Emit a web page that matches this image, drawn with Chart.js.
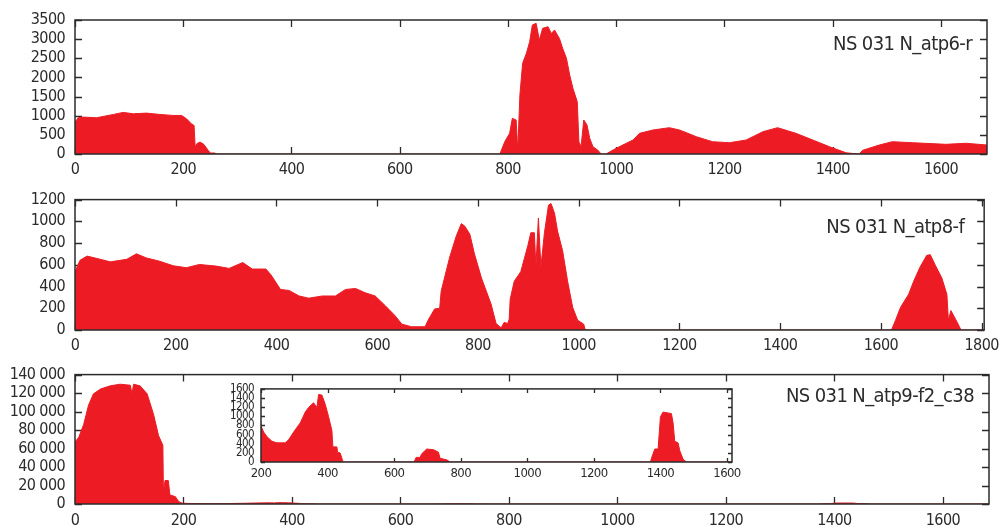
<!DOCTYPE html>
<html>
<head>
<meta charset="utf-8">
<script src="https://cdn.jsdelivr.net/npm/chart.js@4/dist/chart.umd.min.js"></script>
<style>
  body { margin: 0; background: #fff; }
  #wrap { position: relative; width: 1006px; height: 531px; overflow: hidden; }
  canvas { position: absolute; }
</style>
</head>
<body>
<div id="wrap">
  <canvas id="c1" width="1006" height="180" style="left:0;top:0"></canvas>
  <canvas id="c2" width="1006" height="180" style="left:0;top:180px"></canvas>
  <canvas id="c3" width="1006" height="176" style="left:0;top:355px"></canvas>
  <canvas id="c4" width="535" height="105" style="left:215px;top:375px"></canvas>
</div>
<script>
// NS 031 N_atp6-r
var pos1 = [0, 6, 15, 40, 52, 71, 89, 108, 132, 157, 181, 197, 206, 215, 220, 222, 225, 231, 238, 246, 250, 258, 262,
  785, 794, 803, 808, 815, 818, 822, 827, 834, 840, 845, 852, 858, 864, 874, 880, 886, 895, 901, 908, 914, 920, 928, 931, 935, 940, 946, 951, 957, 966, 972,
  981, 1000, 1031, 1043, 1068, 1098, 1117, 1148, 1178, 1209, 1240, 1271, 1298, 1332, 1363, 1394, 1425, 1449, 1455, 1486, 1510, 1548, 1609, 1646, 1685];
var val1 = [834, 947, 964, 947, 981, 1033, 1086, 1051, 1068, 1033, 1007, 1007, 921, 790, 747, 182, 269, 313, 252, 96, 26, 26, 0,
  0, 321, 540, 932, 888, 100, 1540, 2370, 2630, 2933, 3370, 3413, 2977, 3282, 3325, 3150, 3238, 3020, 2760, 2500, 2063, 1715, 1365, 321, 190, 888, 757, 410, 190, 100, 0,
  0, 150, 366, 540, 627, 687, 627, 452, 321, 295, 366, 583, 687, 540, 366, 190, 30, 0, 95, 235, 321, 295, 253, 280, 235];

// NS 031 N_atp8-f
var pos2 = [0, 10, 24, 50, 70, 103, 122, 142, 168, 195, 221, 247, 280, 306, 333, 352, 379, 389, 408, 425, 445, 464, 491, 517, 537, 557, 576, 596, 616, 635, 649, 668, 695,
  701, 714, 724, 727, 744, 757, 767, 774, 784, 793, 807, 826, 836, 846, 852, 859, 862,
  864, 872, 885, 899, 905, 912, 915, 920, 925, 932, 940, 945, 952, 958, 968, 978, 988, 998, 1010, 1013,
  1621, 1629, 1639, 1655, 1665, 1678, 1691, 1698, 1708, 1721, 1731, 1734, 1739, 1751, 1759, 1805];
var val2 = [537, 642, 680, 651, 627, 651, 701, 663, 633, 591, 573, 603, 588, 567, 621, 561, 561, 508, 373, 364, 313, 293, 313, 313, 373, 382, 343, 313, 224, 134, 54, 30, 30,
  90, 194, 200, 358, 672, 866, 979, 955, 880, 701, 478, 239, 60, 20, 70, 60, 100,
  284, 448, 537, 776, 895, 895, 582, 1030, 582, 895, 1149, 1164, 1075, 910, 731, 448, 209, 90, 54, 0,
  0, 90, 209, 328, 448, 582, 687, 693, 597, 478, 328, 90, 179, 75, 0, 0];

// NS 031 N_atp9-f2_c38 (the inset shows the same series from 200 on)
var pos3 = [0, 7, 16, 25, 34, 47, 65, 83, 102, 105, 108, 120, 133, 145, 154, 162, 163, 166, 172, 175, 185, 191, 197,
  200, 208, 218, 233, 248, 273, 283, 298, 318, 333, 343, 358, 368, 373, 383, 393, 403, 413, 416, 428, 430, 438, 446, 450,
  660, 666, 678, 683, 698, 718, 733, 738, 758, 768,
  1370, 1373, 1383, 1393, 1400, 1408, 1423, 1433, 1438, 1443, 1453, 1458, 1468, 1478, 1685];
var val3 = [67050, 72260, 86150, 107000, 119150, 124370, 127850, 129580, 128540, 119150, 129580, 127850, 119150, 96580, 74000, 63570, 13200, 25360, 25360, 9730, 8000, 2780, 1000,
  790, 655, 554, 452, 419, 419, 486, 655, 857, 1093, 1195, 1296, 1195, 1478, 1465, 1263, 992, 689, 331, 331, 216, 196, 13, 0,
  0, 101, 101, 182, 284, 270, 216, 81, 47, 0,
  0, 81, 284, 284, 992, 1093, 1073, 1060, 857, 452, 419, 250, 61, 0, 0];

// tick labels
var xTicks1 = [0, 200, 400, 600, 800, 1000, 1200, 1400, 1600];
var xTicks2 = [0, 200, 400, 600, 800, 1000, 1200, 1400, 1600, 1800];
var xTicks3 = [0, 200, 400, 600, 800, 1000, 1200, 1400, 1600];
var xTicksIn = [200, 400, 600, 800, 1000, 1200, 1400, 1600];
var yTicks1 = [0, 500, 1000, 1500, 2000, 2500, 3000, 3500];
var yTicks2 = [0, 200, 400, 600, 800, 1000, 1200];
var yTicks3 = [0, 20000, 40000, 60000, 80000, 100000, 120000, 140000];
var yTicksIn = [0, 200, 400, 600, 800, 1000, 1200, 1400, 1600];

var red = "rgb(237,28,36)";
var ink = "#2b2b2b";
var fontFam = "'Liberation Sans Narrow', 'DejaVu Sans Condensed', sans-serif";

function plain(v) { return String(v); }
function spaced(v) { return String(v).replace(/\B(?=(\d{3})+(?!\d))/g, " "); }

// frame, inward ticks on all four sides, and the panel name
var frame = {
  id: "frame",
  beforeDraw: function (chart) {
    chart.ctx.letterSpacing = "-0.6px";
  },
  beforeDatasetsDraw: function (chart, args, o) {
    var a = chart.chartArea, ctx = chart.ctx, x = chart.scales.x, y = chart.scales.y;
    ctx.save();
    ctx.strokeStyle = ink;
    ctx.lineWidth = 1.3;
    ctx.beginPath();
    x.ticks.forEach(function (t) {
      var px = Math.round(x.getPixelForValue(t.value)) + 0.5;
      ctx.moveTo(px, a.bottom); ctx.lineTo(px, a.bottom - o.len);
      ctx.moveTo(px, a.top); ctx.lineTo(px, a.top + o.len);
    });
    y.ticks.forEach(function (t) {
      var py = Math.round(y.getPixelForValue(t.value)) + 0.5;
      ctx.moveTo(a.left, py); ctx.lineTo(a.left + o.len, py);
      ctx.moveTo(a.right, py); ctx.lineTo(a.right - o.len, py);
    });
    ctx.stroke();
    ctx.restore();
  },
  afterDatasetsDraw: function (chart, args, o) {
    var a = chart.chartArea, ctx = chart.ctx;
    ctx.save();
    ctx.strokeStyle = ink;
    ctx.lineWidth = 1.5;
    ctx.strokeRect(a.left, a.top, a.right - a.left, a.bottom - a.top);
    if (o.text) {
      ctx.fillStyle = ink;
      ctx.font = "20px " + fontFam;
      ctx.textAlign = "right";
      ctx.textBaseline = "alphabetic";
      ctx.fillText(o.text, a.right - o.dx, a.top + o.dy);
    }
    ctx.restore();
  }
};

function panel(id, xs, ys, cfg) {
  var pts = xs.map(function (x, i) { return { x: x, y: ys[i] }; });
  return new Chart(id, {
    type: "line",
    data: {
      datasets: [{
        data: pts,
        borderColor: red,
        backgroundColor: red,
        borderWidth: 1,
        pointRadius: 0,
        tension: 0,
        fill: "origin"
      }]
    },
    options: {
      responsive: false,
      animation: false,
      layout: { padding: cfg.pad },
      plugins: {
        legend: { display: false },
        tooltip: { enabled: false },
        frame: { text: cfg.text, dx: cfg.dx, dy: cfg.dy, len: cfg.len }
      },
      scales: {
        x: {
          type: "linear",
          min: cfg.xMin,
          max: cfg.xMax,
          grid: { display: false, drawTicks: false },
          border: { display: false },
          afterBuildTicks: function (s) { s.ticks = cfg.xTicks.map(function (v) { return { value: v }; }); },
          ticks: { maxRotation: 0, autoSkip: false, padding: cfg.xPad, color: ink,
            font: { family: fontFam, size: cfg.xFont }, callback: plain },
          afterFit: function (s) { s.height = cfg.xH; }
        },
        y: {
          min: 0,
          max: cfg.yMax,
          grid: { display: false, drawTicks: false },
          border: { display: false },
          afterBuildTicks: function (s) { s.ticks = cfg.yTicks.map(function (v) { return { value: v }; }); },
          ticks: { padding: cfg.yPad, color: ink, autoSkip: false,
            font: { family: fontFam, size: cfg.yFont }, callback: cfg.yFmt },
          afterFit: function (s) { s.width = cfg.yW; }
        }
      }
    },
    plugins: [frame]
  });
}

panel("c1", pos1, val1, { text: "NS 031 N_atp6-r", dx: 15, dy: 30, len: 7,
  pad: { top: 20, right: 19, left: 0, bottom: 0 }, xMin: 0, xMax: 1685, yMax: 3500,
  xTicks: xTicks1, yTicks: yTicks1, yFmt: plain,
  xH: 26, yW: 75, xPad: 6, yPad: 10, xFont: 16, yFont: 16 });

panel("c2", pos2, val2, { text: "NS 031 N_atp8-f", dx: 20, dy: 33, len: 7,
  pad: { top: 16, right: 16, left: 0, bottom: 0 }, xMin: 0, xMax: 1805, yMax: 1200,
  xTicks: xTicks2, yTicks: yTicks2, yFmt: plain,
  xH: 30, yW: 75, xPad: 6, yPad: 10, xFont: 16, yFont: 16 });

panel("c3", pos3, val3, { text: "NS 031 N_atp9-f2_c38", dx: 15, dy: 27, len: 7,
  pad: { top: 15, right: 17, left: 0, bottom: 0 }, xMin: 0, xMax: 1685, yMax: 140000,
  xTicks: xTicks3, yTicks: yTicks3, yFmt: spaced,
  xH: 27, yW: 75, xPad: 7, yPad: 10, xFont: 16, yFont: 16 });

panel("c4", pos3, val3, { text: "", dx: 0, dy: 0, len: 4,
  pad: { top: 8, right: 18, left: 0, bottom: 0 }, xMin: 200, xMax: 1615, yMax: 1600,
  xTicks: xTicksIn, yTicks: yTicksIn, yFmt: plain,
  xH: 18, yW: 46, xPad: 4, yPad: 7, xFont: 13, yFont: 11.5 });
</script>
</body>
</html>
